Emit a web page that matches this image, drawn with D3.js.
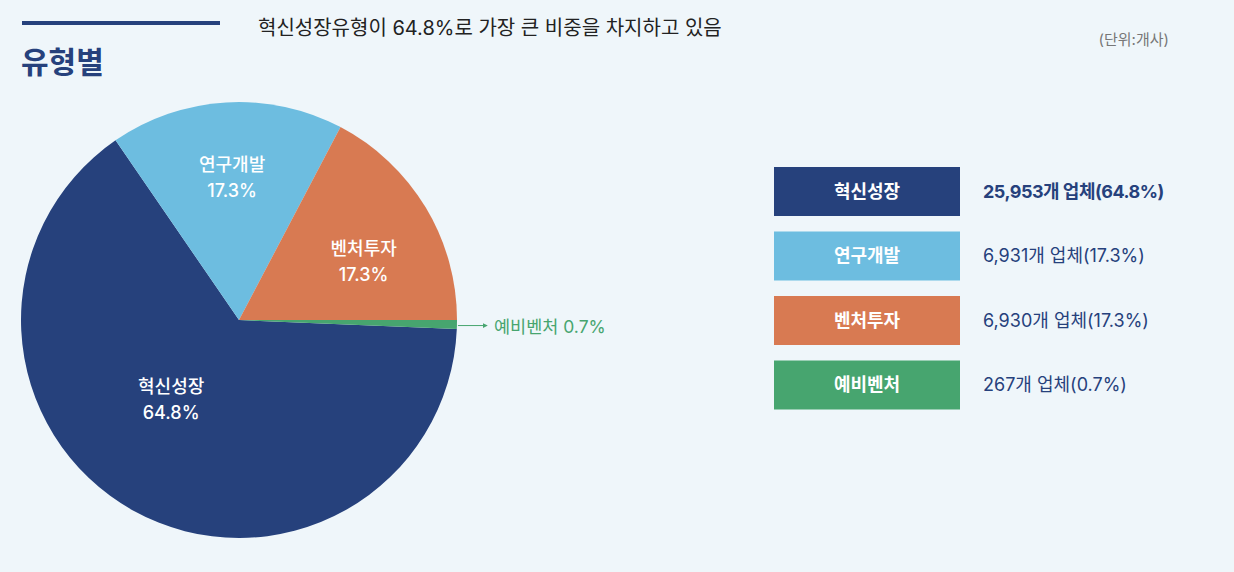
<!DOCTYPE html>
<html><head><meta charset="utf-8">
<script src="https://cdn.jsdelivr.net/npm/d3@7"></script>
<style>
html,body{margin:0;padding:0;background:#eff6fa;}
svg{display:block;font-family:Inter,"Noto Sans CJK KR","Noto Sans",sans-serif;}
</style></head>
<body>
<svg id="chart" width="1234" height="572"></svg>
<script>
const categories = ["혁신성장", "연구개발", "벤처투자", "예비벤처"];
const counts = [25953, 6931, 6930, 267];
const percents = ["64.8%", "17.3%", "17.3%", "0.7%"];
const colors = ["#26417c", "#6dbde0", "#d87a52", "#47a56f"];

const svg = d3.select("#chart");
const W = 1234, H = 572;
svg.append("rect").attr("width", W).attr("height", H).attr("fill", "#eff6fa");

// header
svg.append("rect").attr("x", 22).attr("y", 21).attr("width", 198).attr("height", 4).attr("fill", "#26417c");
svg.append("text").attr("x", 21).attr("y", 73).attr("font-size", 30).attr("font-weight", 700)
  .attr("fill", "#26417c").text("유형별");
svg.append("text").attr("x", 258).attr("y", 35).attr("font-size", 20).attr("font-weight", 400)
  .attr("fill", "#222").text("혁신성장유형이 64.8%로 가장 큰 비중을 차지하고 있음");
svg.append("text").attr("x", 1169).attr("y", 45).attr("font-size", 15).attr("text-anchor", "end")
  .attr("fill", "#777").text("(단위:개사)");

// pie
const cx = 239, cy = 320, R = 218;
const total = d3.sum(counts);
const start = Math.PI / 2 + (counts[3] / total) * 2 * Math.PI;
const pie = d3.pie().sort(null).value(d => d).startAngle(start).endAngle(start + 2 * Math.PI);
const arcs = pie(counts);
const arc = d3.arc().innerRadius(0).outerRadius(R);
const g = svg.append("g").attr("transform", `translate(${cx},${cy})`);
g.selectAll("path").data(arcs).enter().append("path")
  .attr("d", arc).attr("fill", (d, i) => colors[i]);

// inside labels (radius factors / angle shifts for placement)
const labelR = [0.48, 0.65, 0.63, 0];
const labelShift = [0.2, 0.01, 0.11, 0];
arcs.forEach((d, i) => {
  if (i === 3) return;
  const a = (d.startAngle + d.endAngle) / 2 + labelShift[i];
  const r = R * labelR[i];
  const x = Math.sin(a) * r, y = -Math.cos(a) * r;
  const t = g.append("text").attr("text-anchor", "middle").attr("fill", "#fff")
    .attr("font-size", 18).attr("font-weight", 500);
  t.append("tspan").attr("x", x).attr("y", y - 7).text(categories[i]);
  t.append("tspan").attr("x", x).attr("y", y + 19).text(percents[i]);
});

// outside label for small slice
const small = arcs[3];
const am = (small.startAngle + small.endAngle) / 2;
const px = Math.sin(am) * R, py = -Math.cos(am) * R;
svg.append("defs").append("marker").attr("id", "arr").attr("viewBox", "0 0 6 6")
  .attr("refX", 5).attr("refY", 3).attr("markerWidth", 5).attr("markerHeight", 5).attr("orient", "auto")
  .append("path").attr("d", "M0,0L6,3L0,6Z").attr("fill", colors[3]);
g.append("line").attr("x1", px + 1).attr("y1", py + 1).attr("x2", px + 30).attr("y2", py + 1)
  .attr("stroke", colors[3]).attr("stroke-width", 1).attr("marker-end", "url(#arr)");
g.append("text").attr("x", px + 37).attr("y", py + 8).attr("font-size", 17.5).attr("fill", colors[3])
  .text(categories[3] + " " + percents[3]);

// legend
const lx = 774, ly = 167, bw = 186, bh = 49, step = 64.5;
const fmt = d3.format(",");
categories.forEach((c, i) => {
  const y = ly + i * step;
  svg.append("rect").attr("x", lx).attr("y", y).attr("width", bw).attr("height", bh).attr("fill", colors[i]);
  svg.append("text").attr("x", lx + bw / 2).attr("y", y + bh / 2 + 6).attr("text-anchor", "middle")
    .attr("font-size", 18).attr("font-weight", 700).attr("fill", "#fff").text(c);
  svg.append("text").attr("x", 983).attr("y", y + bh / 2 + 6).attr("font-size", 18)
    .attr("font-weight", i === 0 ? 700 : 400).attr("fill", "#26417c")
    .attr("letter-spacing", i === 0 ? -0.5 : 0)
    .text(fmt(counts[i]) + "개 업체(" + percents[i] + ")");
});
</script>
</body></html>
